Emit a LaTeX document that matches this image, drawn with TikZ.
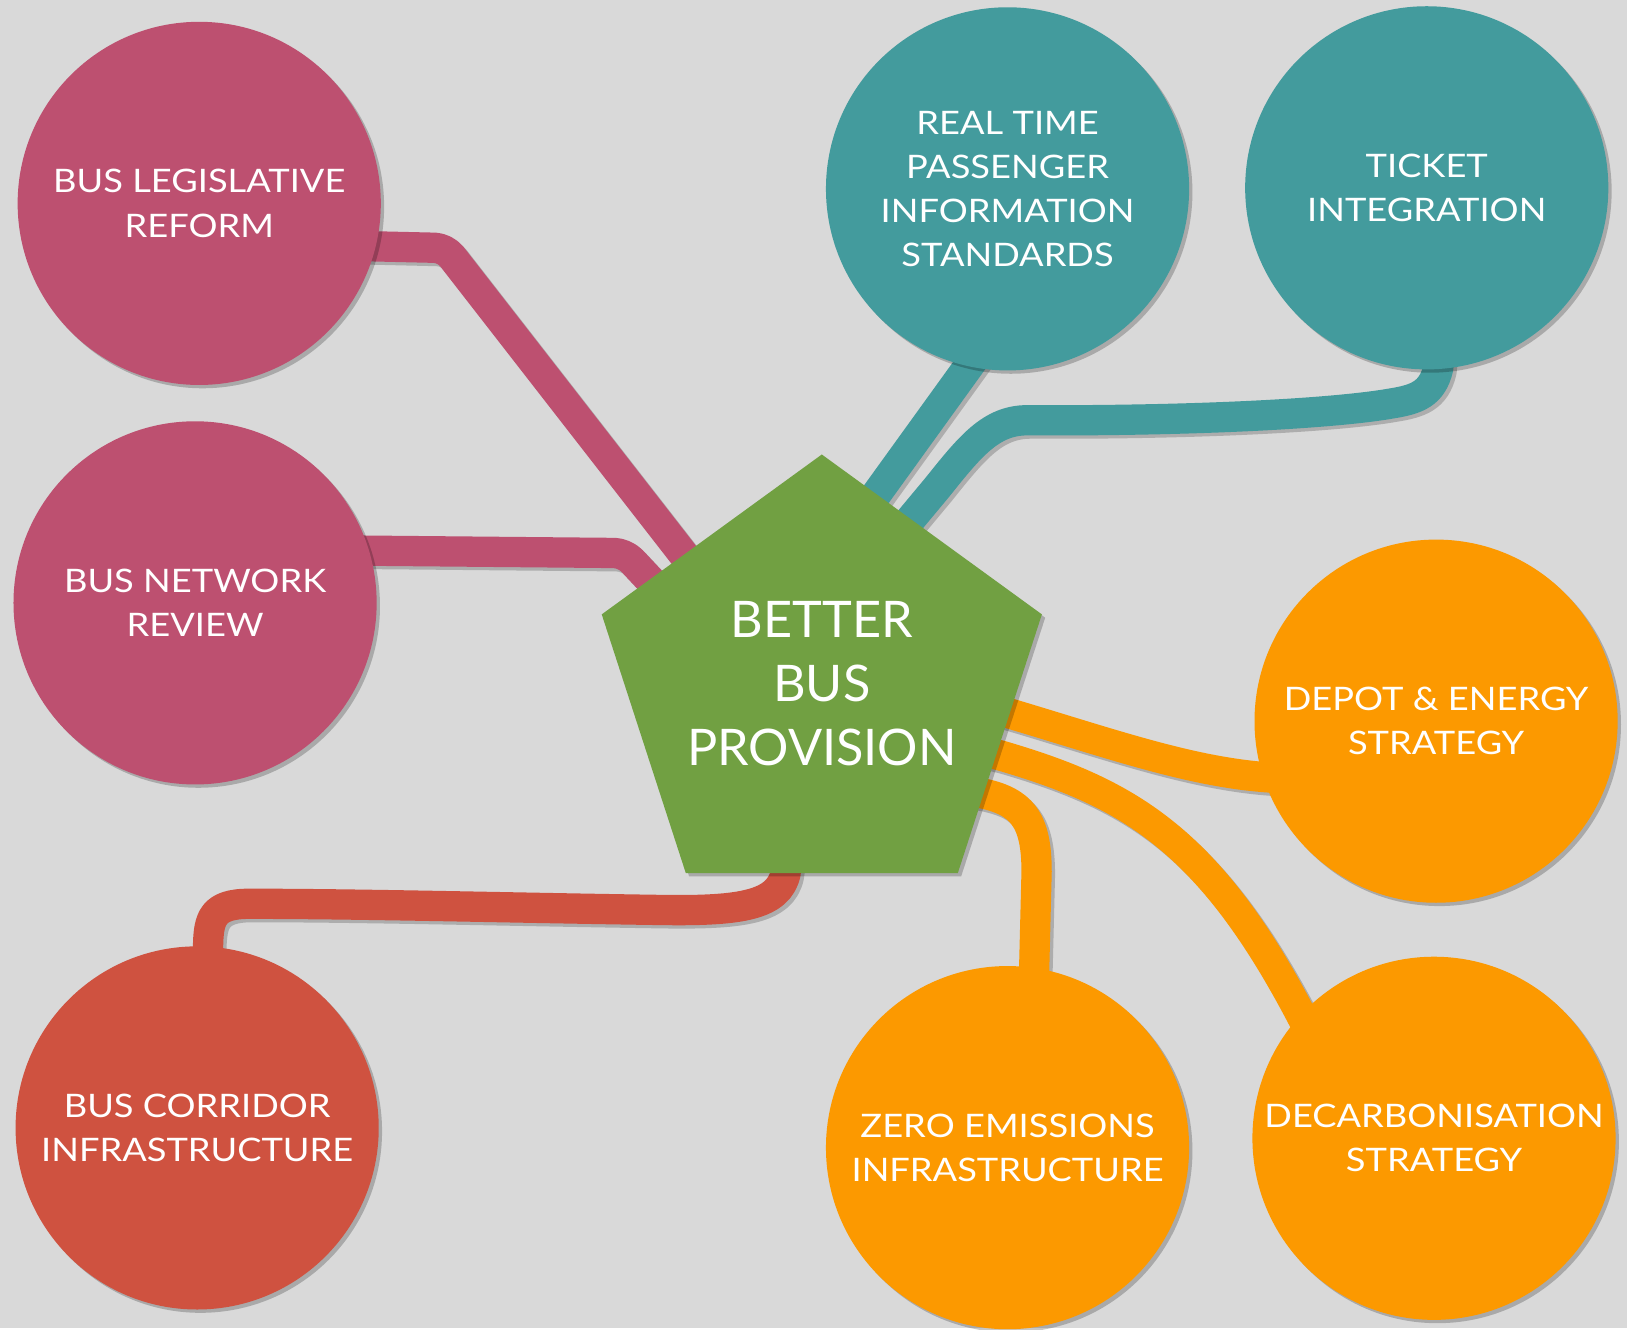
\documentclass[tikz,border=0pt]{standalone}
\usepackage{fontspec}
\setmainfont{Lato}
\newfontfamily\topicfam{Lato}[FakeStretch=1.12]
\usetikzlibrary{shapes.geometric,shadows}
\definecolor{bgc}{HTML}{D9D9D9}
\definecolor{pinkc}{HTML}{BD5070}
\definecolor{tealc}{HTML}{439B9D}
\definecolor{orangec}{HTML}{FC9900}
\definecolor{redc}{HTML}{CF5240}
\definecolor{greenc}{HTML}{71A042}
\newcommand\topicfnt{\topicfam\fontsize{15.6pt}{21.3pt}\selectfont}
\newcommand\hubfnt{\fontsize{24.3pt}{30.8pt}\selectfont}
\pgfdeclarelayer{back}
\pgfdeclarelayer{links}
\pgfsetlayers{back,links,main}
\begin{document}
\begin{tikzpicture}[x=0.5pt,y=-0.5pt,
  softshadow/.style={drop shadow={shadow xshift=1.6pt, shadow yshift=-1.6pt, opacity=0.22, fill=black}},
  topic/.style={circle, fill=#1, minimum size=175pt, inner sep=0pt, text=white,
    align=center, font=\topicfnt, softshadow},
  hubnode/.style={regular polygon, regular polygon sides=5, fill=greenc,
    minimum size=223pt, inner sep=0pt, softshadow},
  hubtext/.style={text=white, align=center, font=\hubfnt, inner sep=0pt},
  link/.style={line width=14.6pt, draw=#1, line join=round,
    preaction={draw=black, line width=14.6pt, opacity=0.2, line join=round,
      transform canvas={shift={(1.6pt,-1.6pt)}}}},
]
\begin{pgfonlayer}{back}
\path[use as bounding box, fill=bgc] (0,0) rectangle (1568,1280);
\end{pgfonlayer}

\node[topic=pinkc] (legis) at (192,196) {BUS LEGISLATIVE\\REFORM};
\node[topic=pinkc] (netrev) at (188,581) {BUS NETWORK\\REVIEW};
\node[topic=redc] (corridor) at (190,1087) {BUS CORRIDOR\\INFRASTRUCTURE};
\node[topic=tealc] (rtpi) at (971,182) {REAL TIME\\PASSENGER\\INFORMATION\\STANDARDS};
\node[topic=tealc] (ticket) at (1375,181) {TICKET\\INTEGRATION};
\node[topic=orangec] (depot) at (1384,695) {DEPOT \& ENERGY\\STRATEGY};
\node[topic=orangec] (zero) at (971,1106) {ZERO EMISSIONS\\INFRASTRUCTURE};
\node[topic=orangec] (decarb) at (1382,1097) {DECARBONISATION\\STRATEGY};
\node[hubnode] (hub) at (792,661) {};
\node[hubtext] (hublabel) at (792,659) {BETTER\\BUS\\PROVISION};

\begin{pgfonlayer}{links}
\draw[link=pinkc, rounded corners=5pt] (legis.center) -- (300,236) -- (429,239) -- (702,590) -- (hub.center);
\draw[link=pinkc, rounded corners=5pt] (netrev.center) -- (280,530) -- (602,533) -- (690,627) -- (hub.center);
\draw[link=tealc] (rtpi.center) -- (979,290) -- (813,520) -- (hub.center);
\draw[link=tealc] (ticket.center) -- (1392,300) -- (1386,355)
  .. controls (1380,380) and (1365,385) .. (1340,389)
  .. controls (1300,396) and (1200,404) .. (1040,405) -- (990,405)
  .. controls (955,405) and (935,430) .. (903,470) -- (853,530) -- (hub.center);
\draw[link=orangec] (hub.center) -- (940,678)
  .. controls (1060,712) and (1150,748) .. (1240,750) -- (depot.center);
\draw[link=orangec] (hub.center) -- (930,720) -- (964,728)
  .. controls (1090,765) and (1170,810) .. (1265,1000) -- (decarb.center);
\draw[link=orangec] (hub.center) -- (920,760) -- (944,764)
  .. controls (985,772) and (999,790) .. (999,840) -- (996,960) -- (zero.center);
\draw[link=redc] (hub.center) -- (760,820) -- (757,842)
  .. controls (750,872) and (715,878) .. (640,877)
  .. controls (500,875) and (350,871) .. (240,871)
  .. controls (205,871) and (201,885) .. (200.5,912) -- (200,960) -- (corridor.center);
\end{pgfonlayer}
\end{tikzpicture}
\end{document}
